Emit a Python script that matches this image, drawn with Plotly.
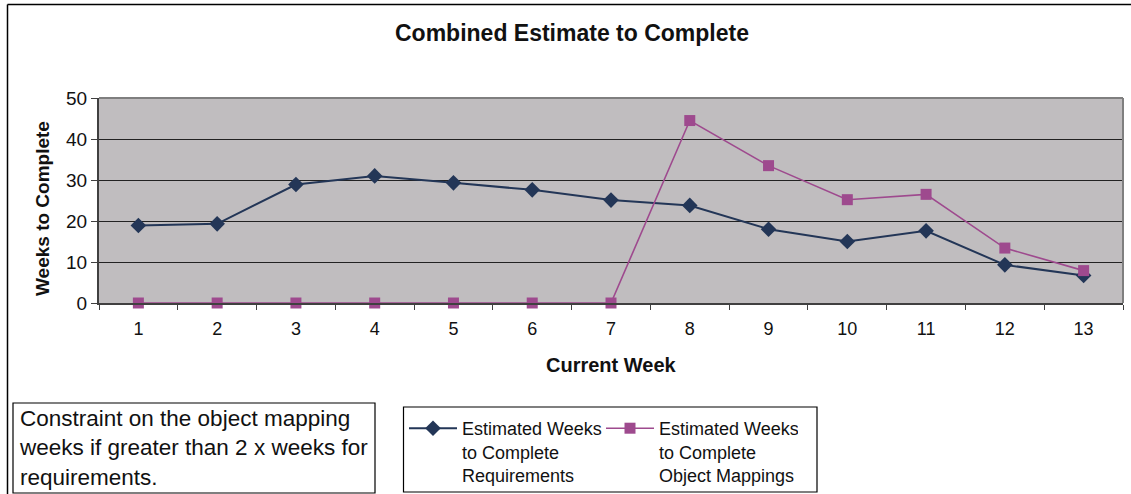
import plotly.graph_objects as go

weeks = [str(i) for i in range(1, 14)]
requirements = [18.9, 19.3, 28.9, 31.0, 29.3, 27.6, 25.1, 23.8, 18.0, 15.0, 17.6, 9.3, 6.7]
object_mappings = [0, 0, 0, 0, 0, 0, 0, 44.5, 33.5, 25.2, 26.5, 13.4, 7.9]

W, H = 1131, 494
L, R, T, B = 99, 1123, 98, 303


def px(x):
    return (x - L) / (R - L)


def py(y):
    return (B - y) / (B - T)


FONT = "Liberation Sans, Arial, sans-serif"
BLUE = "#233657"
MAG = "#9E4A8E"

fig = go.Figure()
fig.add_trace(go.Scatter(
    x=weeks, y=requirements, mode="lines+markers",
    name="Estimated Weeks<br>to Complete<br>Requirements",
    line=dict(color=BLUE, width=2),
    marker=dict(symbol="diamond", size=12, color=BLUE),
    cliponaxis=False,
))
fig.add_trace(go.Scatter(
    x=weeks, y=object_mappings, mode="lines+markers",
    name="Estimated Weeks<br>to Complete<br>Object Mappings",
    line=dict(color=MAG, width=1.6),
    marker=dict(symbol="square", size=11, color=MAG),
    cliponaxis=False,
))

shapes = [
    # outer chart border (top and left)
    dict(type="line", xref="paper", yref="paper", x0=px(7.5), x1=px(1135), y0=py(4.5), y1=py(4.5),
         line=dict(color="black", width=1.5)),
    dict(type="line", xref="paper", yref="paper", x0=px(7.5), x1=px(7.5), y0=py(4.5), y1=py(500),
         line=dict(color="black", width=1.5)),
    # plot area frame top/right
    dict(type="line", xref="paper", yref="paper", x0=0, x1=1, y0=1, y1=1,
         line=dict(color="#7f7f7f", width=2)),
    dict(type="line", xref="paper", yref="paper", x0=1, x1=1, y0=0, y1=1,
         line=dict(color="#7f7f7f", width=2)),
    # note box
    dict(type="rect", xref="paper", yref="paper", x0=px(13), x1=px(375), y0=py(403), y1=py(493),
         line=dict(color="black", width=1.2), fillcolor="white"),
    # legend box
    dict(type="rect", xref="paper", yref="paper", x0=px(403.5), x1=px(817), y0=py(407), y1=py(492),
         line=dict(color="black", width=1.2), fillcolor="white"),
]

annotations = [
    dict(text="<b>Combined Estimate to Complete</b>", x=px(572), y=py(33), xref="paper", yref="paper",
         showarrow=False, font=dict(size=23, color="#111", family=FONT), xanchor="center", yanchor="middle"),
    dict(text="<b>Weeks to Complete</b>", x=px(42), y=py(209), xref="paper", yref="paper",
         showarrow=False, textangle=-90, font=dict(size=19, color="#111", family=FONT),
         xanchor="center", yanchor="middle"),
    dict(text="<b>Current Week</b>", x=px(611), y=py(365), xref="paper", yref="paper",
         showarrow=False, font=dict(size=20, color="#111", family=FONT), xanchor="center", yanchor="middle"),
    dict(text="Constraint on the object mapping<br>weeks if greater than 2 x weeks for<br>requirements.",
         x=px(17), y=py(404), xref="paper", yref="paper", showarrow=False, align="left",
         font=dict(size=22.5, color="#111", family=FONT), xanchor="left", yanchor="top"),
]

fig.update_layout(
    width=W, height=H,
    margin=dict(l=L, r=W - R, t=T, b=H - B, autoexpand=False),
    paper_bgcolor="white",
    plot_bgcolor="#C0BDBF",
    font=dict(family=FONT, size=18, color="#111"),
    showlegend=True,
    legend=dict(
        orientation="h", x=px(404), y=py(410), xanchor="left", yanchor="top",
        borderwidth=0, bgcolor="rgba(0,0,0,0)",
        font=dict(size=18, family=FONT, color="#111"),
        entrywidth=134, entrywidthmode="pixels", valign="top",
        itemwidth=48,
    ),
    shapes=shapes,
    annotations=annotations,
)
fig.update_xaxes(
    type="category", range=[-0.5, 12.5], tickson="boundaries", ticks="outside", ticklen=5,
    tickcolor="#404040", ticklabelstandoff=8,
    showgrid=False, showline=True, linecolor="#404040", linewidth=2,
    tickfont=dict(size=18, family=FONT, color="#111"),
)
fig.update_yaxes(
    range=[0, 50], dtick=10, ticks="outside", ticklen=6, tickcolor="#404040",
    showgrid=True, gridcolor="#222", gridwidth=1,
    showline=True, linecolor="#404040", linewidth=2, zeroline=False,
    tickfont=dict(size=19, family=FONT, color="#111"),
)

fig.write_html("out.html")
